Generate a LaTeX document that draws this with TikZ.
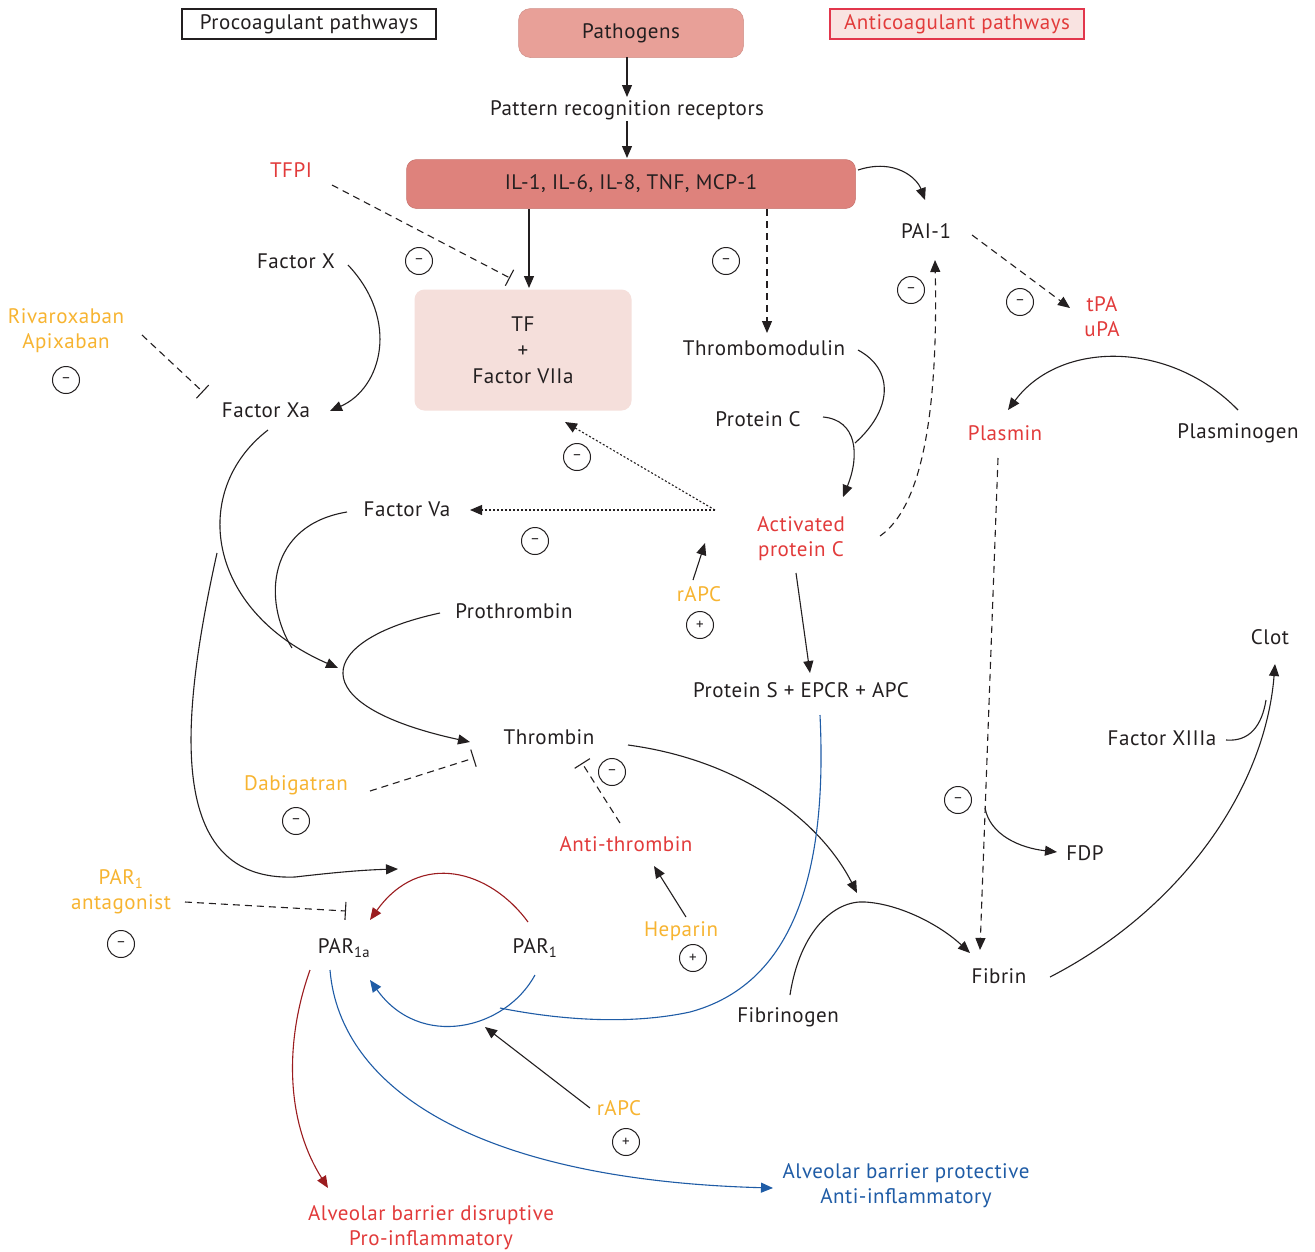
\documentclass[tikz,border=0pt]{standalone}
\usepackage{fontspec}
\setmainfont[LetterSpace=2.5]{PT Sans}
\usetikzlibrary{arrows.meta,calc}
\definecolor{ink}{HTML}{231F20}
\definecolor{txtred}{HTML}{E23B3B}
\definecolor{yel}{HTML}{F7B431}
\definecolor{blu}{HTML}{1F5CA6}
\definecolor{dred}{HTML}{9B1C1F}
\definecolor{pathfill}{HTML}{E8A098}
\definecolor{ilfill}{HTML}{DE827C}
\definecolor{tffill}{HTML}{F5DFDB}
\definecolor{antifill}{HTML}{F9E3E1}
\definecolor{antiborder}{HTML}{E2364C}
\begin{document}
\begin{tikzpicture}[x=1pt,y=-1pt,
  font=\fontsize{21}{25}\selectfont,
  lbl/.style={inner sep=1pt,text=ink,align=center},
  redlbl/.style={inner sep=1pt,text=txtred,align=center},
  yellbl/.style={inner sep=1pt,text=yel,align=center},
  blulbl/.style={inner sep=1pt,text=blu,align=center},
  sgn/.style={draw=ink,circle,line width=1pt,minimum size=27pt,inner sep=0pt,text=ink,font=\fontsize{15}{15}\selectfont},
  ln/.style={draw=ink,line width=1.1pt},
  arr/.style={ln,-{Triangle[length=12pt,width=10pt]}},
  dsh/.style={dash pattern=on 7pt off 5pt},
  dtd/.style={dash pattern=on 2pt off 2pt},
  inh/.style={ln,dsh,-{Bar[width=18pt,line width=1.1pt]}},
  barrow/.style={draw=blu,line width=1.1pt,-{Triangle[length=12pt,width=10pt]}},
  rarrow/.style={draw=dred,line width=1.1pt,-{Triangle[length=12pt,width=10pt]}}
]
\useasboundingbox (0,0) rectangle (1315,1251);
\fill[white] (0,0) rectangle (1315,1251);

% boxes
\node[draw=ink,line width=1.2pt,minimum width=254pt,minimum height=30pt,inner sep=0pt,text=ink] (proco) at (309,24) {Procoagulant pathways};
\node[draw=antiborder,fill=antifill,line width=1.2pt,minimum width=254pt,minimum height=30pt,inner sep=0pt,text=txtred] (antico) at (957,24) {Anticoagulant pathways};
\node[fill=pathfill,draw=pathfill!90!black,line width=0.5pt,rounded corners=12pt,minimum width=225pt,minimum height=49pt,text=ink] (path) at (631,33) {Pathogens};
\node[lbl] (prr) at (627,110) {Pattern recognition receptors};
\node[fill=ilfill,draw=ilfill!90!black,line width=0.5pt,rounded corners=10pt,minimum width=449pt,minimum height=49pt,text=ink] (il) at (631,184) {IL-1, IL-6, IL-8, TNF, MCP-1};
\node[fill=tffill,rounded corners=10pt,minimum width=217pt,minimum height=121pt,text=ink,align=center,font=\fontsize{21}{26}\selectfont] (tf) at (523,350) {TF\\+\\Factor VIIa};

% labels
\node[redlbl] (tfpi) at (291,170) {TFPI};
\node[lbl] (fx) at (296,261) {Factor X};
\node[yellbl] (riva) at (66,331) {Rivaroxaban\\Apixaban};
\node[lbl] (fxa) at (266,410) {Factor Xa};
\node[lbl] (thm) at (764,348) {Thrombomodulin};
\node[lbl] (pai) at (926,231) {PAI-1};
\node[redlbl] (tpa) at (1102,317) {tPA\\uPA};
\node[lbl] (protc) at (758,419) {Protein C};
\node[redlbl] (apc) at (801,539) {Activated\\protein C};
\node[redlbl] (plasmin) at (1005,433) {Plasmin};
\node[lbl] (plg) at (1238,433) {Plasminogen};
\node[lbl] (fva) at (407,509) {Factor Va};
\node[yellbl] (rapca) at (699,594) {rAPC};
\node[lbl] (prot) at (514,611) {Prothrombin};
\node[lbl] (ps) at (801,690) {Protein S + EPCR + APC};
\node[lbl] (clot) at (1270,637) {Clot};
\node[lbl] (thr) at (549,737) {Thrombin};
\node[lbl] (fxiii) at (1162,738) {Factor XIIIa};
\node[yellbl] (dabi) at (296,785) {Dabigatran};
\node[redlbl] (at) at (626,844) {Anti-thrombin};
\node[lbl] (fdp) at (1085,853) {FDP};
\node[yellbl] (parant) at (121,892) {PAR\textsubscript{1}\\antagonist};
\node[yellbl] (hep) at (681,931) {Heparin};
\node[lbl] (par1a) at (344,948) {PAR\textsubscript{1a}};
\node[lbl] (par1) at (535,948) {PAR\textsubscript{1}};
\node[lbl] (fibrin) at (999,976) {Fibrin};
\node[lbl] (fibrinogen) at (788,1017) {Fibrinogen};
\node[yellbl] (rapcb) at (619,1108) {rAPC};
\node[blulbl] (abp) at (906,1186) {Alveolar barrier protective\\Anti-inflammatory};
\node[redlbl] (abd) at (431,1228) {Alveolar barrier disruptive\\Pro-inflammatory};

% signs
\node[sgn] (m1) at (419,261) {–};
\node[sgn] (m2) at (726,261) {–};
\node[sgn] (m3) at (911,290) {–};
\node[sgn] (m4) at (1020,302) {–};
\node[sgn] (m5) at (66,380) {–};
\node[sgn] (m6) at (577,457) {–};
\node[sgn] (m7) at (535,541) {–};
\node[sgn] (m8) at (612,772) {–};
\node[sgn] (m9) at (296,821) {–};
\node[sgn] (m10) at (958,800) {–};
\node[sgn] (m11) at (121,944) {–};
\node[sgn] (p1) at (700,625) {+};
\node[sgn] (p2) at (693,958) {+};
\node[sgn] (p3) at (626,1142) {+};

% top chain
\draw[arr] ($(path)+(-4,24)$) -- ($(prr)+(0,-13)$);
\draw[arr] ($(prr)+(0,11)$) -- ($(il)+(-4,-26)$);
\draw[arr] ($(il)+(-102,25)$) -- ($(tf)+(6,-62)$);
\draw[inh] ($(tfpi)+(41,15)$) -- ($(tf)+(-13,-72)$);
\draw[arr] ($(il)+(227,-14)$) .. controls (895,158) and (917,178) .. ($(pai)+(-1,-31)$);
\draw[arr,dsh] ($(il)+(136,25)$) -- ($(thm)+(3,-15)$);
\draw[arr,dsh] ($(pai)+(46,4)$) -- ($(tpa)+(-32,-9)$);

% factor X
\draw[arr] ($(fx)+(52,4)$) .. controls (400,320) and (382,388) .. ($(fxa)+(64,1)$);
\draw[inh] ($(riva)+(76,4)$) -- ($(fxa)+(-63,-18)$);

% protein C
\draw[ln] ($(thm)+(94,2)$) .. controls (895,370) and (892,410) .. (855,443);
\draw[arr] ($(protc)+(65,-2)$) .. controls (857,420) and (860,455) .. ($(apc)+(42,-42)$);
\draw[arr,dsh] ($(apc)+(79,-3)$) .. controls (925,505) and (938,400) .. ($(pai)+(9,29)$);
\draw[arr,dtd] ($(apc)+(-86,-29)$) -- ($(fva)+(63,1)$);
\draw[arr,dtd] ($(apc)+(-86,-29)$) -- ($(tf)+(42,72)$);
\draw[arr] ($(rapca)+(-6,-14)$) -- ($(apc)+(-96,4)$);
\draw[arr] ($(apc)+(-5,34)$) -- ($(ps)+(9,-17)$);

% plasmin
\draw[arr] ($(plg)+(0,-23)$) .. controls (1170,340) and (1060,340) .. ($(plasmin)+(3,-23)$);
\draw[arr,dsh] ($(plasmin)+(-7,25)$) -- ($(fibrin)+(-19,-26)$);
\draw[arr] (985,808) .. controls (990,835) and (1020,848) .. ($(fdp)+(-28,-1)$);

% coagulation cascade
\draw[ln] ($(fva)+(-60,3)$) .. controls (268,525) and (262,600) .. (292,648);
\draw[arr] ($(fxa)+(2,20)$) .. controls (190,490) and (205,610) .. ($(prot)+(-176,57)$);
\draw[arr] (217,553) .. controls (180,720) and (165,882) .. (295,877) .. controls (330,873) and (360,870) .. ($(par1a)+(54,-79)$);
\draw[arr] ($(prot)+(-74,2)$) .. controls (315,640) and (300,705) .. ($(thr)+(-79,5)$);
\draw[inh] ($(dabi)+(74,6)$) -- ($(thr)+(-75,21)$);
\draw[inh] ($(at)+(-6,-21)$) -- ($(thr)+(33,26)$);
\draw[arr] ($(hep)+(5,-14)$) -- ($(at)+(28,22)$);
\draw[arr] ($(thr)+(79,8)$) .. controls (740,760) and (820,820) .. ($(fibrinogen)+(69,-124)$);
\draw[arr] ($(fibrinogen)+(2,-22)$) .. controls (800,930) and (835,900) .. (865,902) .. controls (900,904) and (940,925) .. ($(fibrin)+(-29,-23)$);
\draw[arr] ($(fibrin)+(51,1)$) .. controls (1180,910) and (1265,790) .. ($(clot)+(5,27)$);
\draw[ln] ($(fxiii)+(64,2)$) .. controls (1250,742) and (1262,725) .. (1266,700);

% PAR
\draw[inh] ($(parant)+(64,10)$) -- ($(par1a)+(2,-37)$);
\draw[rarrow] ($(par1)+(-7,-26)$) .. controls (490,870) and (420,850) .. ($(par1a)+(26,-28)$);
\draw[barrow] ($(par1)+(0,27)$) .. controls (505,1030) and (420,1050) .. ($(par1a)+(26,32)$);
\draw[draw=blu,line width=1.1pt] ($(ps)+(19,25)$) .. controls (828,880) and (790,985) .. (690,1012) .. controls (630,1025) and (560,1020) .. (500,1008);
\draw[arr] ($(rapcb)+(-29,0)$) -- ($(par1a)+(141,79)$);
\draw[rarrow] ($(par1a)+(-34,22)$) .. controls (285,1040) and (285,1120) .. ($(abd)+(-103,-40)$);
\draw[barrow] ($(par1a)+(-14,22)$) .. controls (340,1090) and (480,1180) .. ($(abp)+(-133,2)$);
\end{tikzpicture}
\end{document}
